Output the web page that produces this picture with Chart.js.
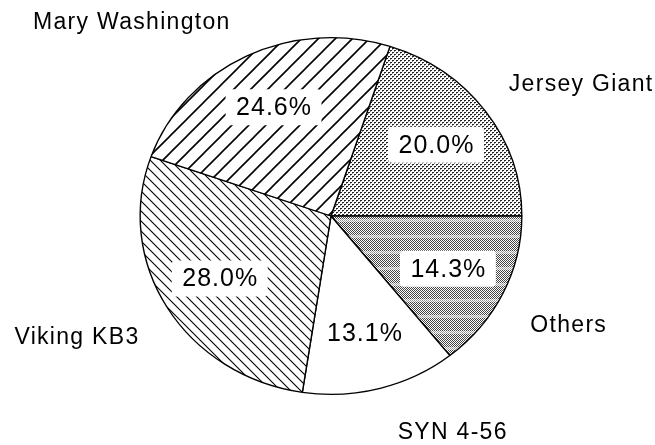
<!DOCTYPE html>
<html>
<head>
<meta charset="utf-8">
<script src="https://cdn.jsdelivr.net/npm/chart.js@4/dist/chart.umd.min.js"></script>
<style>
  html, body { margin: 0; padding: 0; background: #fff; }
  #wrap { position: relative; width: 655px; height: 445px; }
</style>
</head>
<body>
<div id="wrap"><canvas id="pie"></canvas></div>
<script>
// slice order follows the picture clockwise, starting at the Mary Washington / Jersey Giant edge
const varieties = ["Jersey Giant", "Others", "SYN 4-56", "Viking KB3", "Mary Washington"];
const shares = [20.0, 14.3, 13.1, 28.0, 24.6];
const pctLabels = ["20.0%", "14.3%", "13.1%", "28.0%", "24.6%"];

// name label placement: [degrees clockwise from top, distance as multiple of radius]
const namePos = [[60.5, 1.50], [116.4, 1.385], [152.5, 1.37], [243, 1.50], [316, 1.51]];
const stretchX = 1.07; // the scanned pie is a little wider than tall
const FONT = '"Liberation Sans", Arial, sans-serif';

function tile(w, h, draw) {
  const c = document.createElement("canvas");
  c.width = w; c.height = h;
  const g = c.getContext("2d");
  g.fillStyle = "#fff";
  g.fillRect(0, 0, w, h);
  draw(g);
  return document.createElement("canvas").getContext("2d").createPattern(c, "repeat");
}

function hatch(s, forward, lw) {
  return tile(s, s, g => {
    g.strokeStyle = "#000";
    g.lineWidth = lw;
    g.beginPath();
    if (forward) {
      g.moveTo(-2, s + 2); g.lineTo(s + 2, -2);
      g.moveTo(-2, 2); g.lineTo(2, -2);
      g.moveTo(s - 2, s + 2); g.lineTo(s + 2, s - 2);
    } else {
      g.moveTo(-2, -2); g.lineTo(s + 2, s + 2);
      g.moveTo(s - 2, -2); g.lineTo(s + 2, 2);
      g.moveTo(-2, s - 2); g.lineTo(2, s + 2);
    }
    g.stroke();
  });
}

const lightDots = tile(4, 4, g => {
  g.fillStyle = "#222";
  g.fillRect(0, 0, 2, 1);
  g.fillRect(2, 2, 2, 1);
  g.fillStyle = "#888";
  g.fillRect(0, 1, 1, 1);
  g.fillRect(2, 3, 1, 1);
});

const darkDots = tile(2, 16, g => {
  for (let y = 0; y < 16; y++) {
    g.fillStyle = (y >= 11 && y <= 13) ? "#9a9a9a" : "#444";
    g.fillRect(y % 2, y, 1, 1);
  }
});

const fills = [lightDots, darkDots, "#ffffff", hatch(10, false, 1.1), hatch(17, true, 1.6)];

const stretchPlugin = {
  id: "stretch",
  beforeDatasetsDraw(chart) {
    const arc = chart.getDatasetMeta(0).data[0];
    const ctx = chart.ctx;
    // undo the stretch inside the patterns so the dots stay pixel aligned
    const undo = new DOMMatrix().translate(arc.x, 0).scale(1 / stretchX, 1).translate(-arc.x, 0);
    fills.forEach(f => { if (typeof f !== "string") f.setTransform(undo); });
    ctx.save();
    ctx.translate(arc.x, arc.y);
    ctx.scale(stretchX, 1);
    ctx.translate(-arc.x, -arc.y);
  },
  afterDatasetsDraw(chart) {
    chart.ctx.restore();
  },
};

const labelPlugin = {
  id: "labels",
  afterDraw(chart) {
    const ctx = chart.ctx;
    const arcs = chart.getDatasetMeta(0).data;
    ctx.save();
    ctx.textAlign = "center";
    ctx.textBaseline = "middle";
    ctx.fillStyle = "#000";
    arcs.forEach((arc, i) => {
      const p = arc.getProps(["x", "y", "startAngle", "endAngle", "outerRadius"], true);
      const mid = (p.startAngle + p.endAngle) / 2;
      const r = p.outerRadius * 0.68;
      const x = p.x + Math.cos(mid) * r * stretchX;
      const y = p.y + Math.sin(mid) * r;
      ctx.font = "25px " + FONT;
      ctx.letterSpacing = "1px";
      const w = ctx.measureText(pctLabels[i]).width + 20;
      const h = 36;
      if (fills[i] !== "#ffffff") {
        ctx.fillStyle = "#fff";
        ctx.beginPath();
        ctx.roundRect(x - w / 2, y - h / 2, w, h, 4);
        ctx.fill();
      }
      ctx.fillStyle = "#000";
      ctx.fillText(pctLabels[i], x + 0.5, y + 1);

      const a = namePos[i][0] * Math.PI / 180;
      const d = p.outerRadius * namePos[i][1];
      ctx.font = "23px " + FONT;
      ctx.letterSpacing = "1.3px";
      ctx.fillText(varieties[i], p.x + Math.sin(a) * d * stretchX + 1, p.y - Math.cos(a) * d);
    });
    ctx.restore();
  },
};

new Chart(document.getElementById("pie"), {
  type: "pie",
  data: {
    labels: varieties,
    datasets: [{
      data: shares,
      backgroundColor: fills,
      borderColor: "#000",
      borderWidth: 1.3,
    }],
  },
  options: {
    responsive: true,
    maintainAspectRatio: false,
    animation: false,
    rotation: 18,
    layout: { padding: { left: 100, right: 93, top: 37, bottom: 50 } },
    plugins: { legend: { display: false }, tooltip: { enabled: false } },
  },
  plugins: [stretchPlugin, labelPlugin],
});
</script>
</body>
</html>
